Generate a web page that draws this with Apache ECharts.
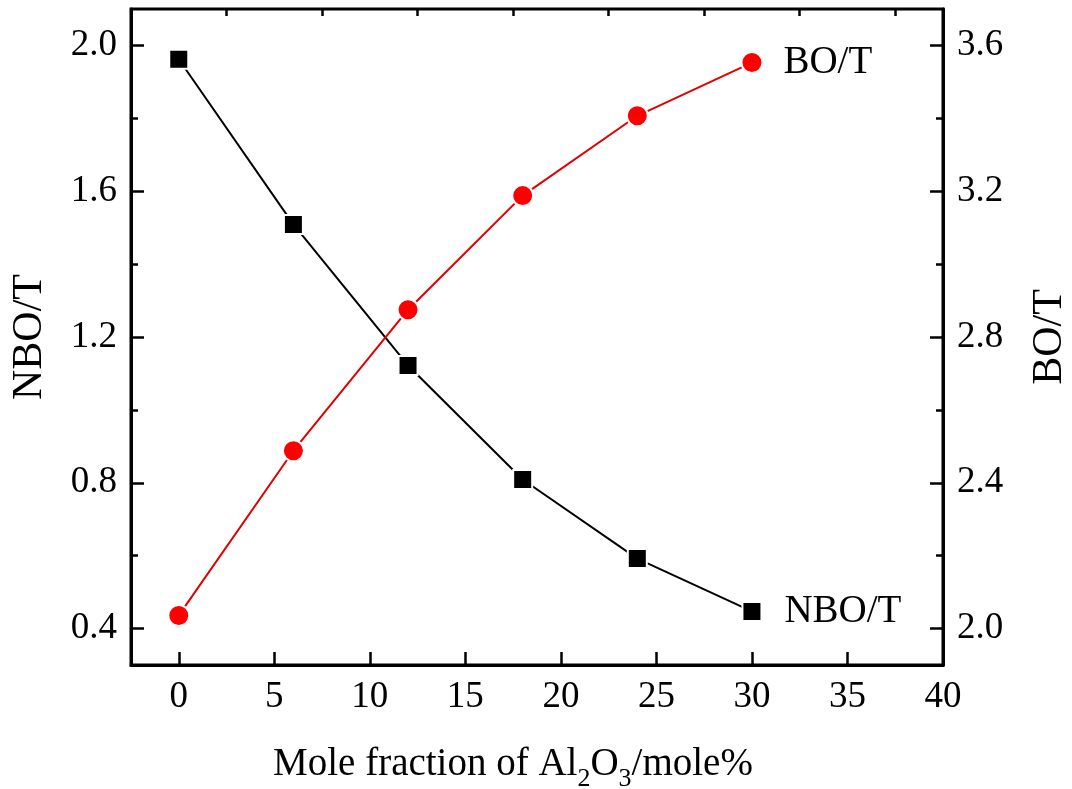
<!DOCTYPE html>
<html>
<head>
<meta charset="utf-8">
<script src="https://cdn.jsdelivr.net/npm/echarts@6/dist/echarts.min.js"></script>
<style>
  html, body { margin: 0; padding: 0; background: #fff; }
  #chart { width: 1072px; height: 789px; }
</style>
</head>
<body>
<div id="chart"></div>
<script>
// data
const fractions = [0, 6, 12, 18, 24, 30];
const nboT = [1.962, 1.509, 1.122, 0.809, 0.592, 0.447];
const boT = [2.036, 2.488, 2.875, 3.188, 3.407, 3.553];

// tick positions
const xTicks = [0, 5, 10, 15, 20, 25, 30, 35, 40];
const xMinorTicks = [2.5, 7.5, 12.5, 17.5, 22.5, 27.5, 32.5, 37.5];
const nboTicks = [0.4, 0.8, 1.2, 1.6, 2.0];
const nboMinorTicks = [0.6, 1.0, 1.4, 1.8];
const boTicks = [2.0, 2.4, 2.8, 3.2, 3.6];
const boMinorTicks = [2.2, 2.6, 3.0, 3.4];

const font = "'Liberation Serif', 'Times New Roman', serif";
const black = '#000';

const chart = echarts.init(document.getElementById('chart'));

function pairs(ys, name, labelDist) {
  return ys.map((y, i) => {
    const item = { value: [fractions[i], y] };
    if (i === ys.length - 1) {
      item.label = {
        show: true,
        position: 'right',
        distance: labelDist,
        formatter: name,
        fontFamily: font,
        fontSize: 39,
        color: black
      };
    }
    return item;
  });
}

function mainY(min, max, ticks, pos, name, gap) {
  return {
    type: 'value',
    position: pos,
    min: min,
    max: max,
    name: name,
    nameLocation: 'middle',
    nameRotate: 90,
    nameGap: gap,
    nameTextStyle: { fontFamily: font, fontSize: 42, color: black },
    axisLine: { show: true, onZero: false, lineStyle: { color: black, width: 3 } },
    axisTick: { show: true, inside: true, length: 13, lineStyle: { color: black, width: 2.5 }, customValues: ticks },
    axisLabel: {
      show: true, margin: 14, fontFamily: font, fontSize: 37, color: black,
      customValues: ticks,
      formatter: v => v.toFixed(1)
    },
    splitLine: { show: false }
  };
}

function minorY(min, max, ticks, pos) {
  return {
    type: 'value',
    position: pos,
    min: min,
    max: max,
    axisLine: { show: false, onZero: false },
    axisTick: { show: true, inside: true, length: 7, lineStyle: { color: black, width: 2.5 }, customValues: ticks },
    axisLabel: { show: false },
    splitLine: { show: false }
  };
}

chart.setOption({
  backgroundColor: '#fff',
  animation: false,
  grid: {
    left: 131, right: 129, top: 9, bottom: 124,
    outerBoundsMode: 'none',
    containLabel: false,
    show: true, borderColor: black, borderWidth: 3, backgroundColor: 'transparent'
  },
  xAxis: [{
    type: 'value',
    min: -2.5,
    max: 40,
    name: '{n|Mole fraction of Al}{s|2}{n|O}{s|3}{n|/mole%}',
    nameLocation: 'middle',
    nameGap: 79,
    nameTextStyle: {
      rich: {
        n: { fontFamily: font, fontSize: 39, color: black, lineHeight: 42 },
        s: { fontFamily: font, fontSize: 26, color: black, lineHeight: 42, verticalAlign: 'bottom', padding: [0, 0, -6, 0] }
      },
      padding: [0, 48, 0, 0]
    },
    axisLine: { show: true, onZero: false, lineStyle: { color: black, width: 3 } },
    axisTick: { show: true, inside: true, length: 13, lineStyle: { color: black, width: 2.5 }, customValues: xTicks },
    axisLabel: { show: true, margin: 14, fontFamily: font, fontSize: 37, color: black, customValues: xTicks },
    splitLine: { show: false }
  }, {
    type: 'value',
    min: -2.5,
    max: 40,
    axisLine: { show: false, onZero: false },
    axisTick: { show: true, inside: true, length: 7, lineStyle: { color: black, width: 2.5 }, customValues: xMinorTicks },
    axisLabel: { show: false },
    splitLine: { show: false }
  }],
  yAxis: [
    mainY(0.3, 2.1, nboTicks, 'left', 'NBO/T', 80),
    mainY(1.9, 3.7, boTicks, 'right', 'BO/T', 86),
    minorY(0.3, 2.1, nboMinorTicks, 'left'),
    minorY(1.9, 3.7, boMinorTicks, 'right')
  ],
  series: [{
    name: 'NBO/T',
    type: 'line',
    yAxisIndex: 0,
    data: pairs(nboT, 'NBO/T', 22),
    symbol: 'rect',
    symbolSize: 19,
    lineStyle: { color: black, width: 2 },
    itemStyle: { color: black, borderColor: '#fff', borderWidth: 2 }
  }, {
    name: 'BO/T',
    type: 'line',
    yAxisIndex: 1,
    data: pairs(boT, 'BO/T', 20),
    symbol: 'circle',
    symbolSize: 21,
    lineStyle: { color: '#e00000', width: 2 },
    itemStyle: { color: '#ff0000', borderColor: '#fff', borderWidth: 2 }
  }]
});
</script>
</body>
</html>
